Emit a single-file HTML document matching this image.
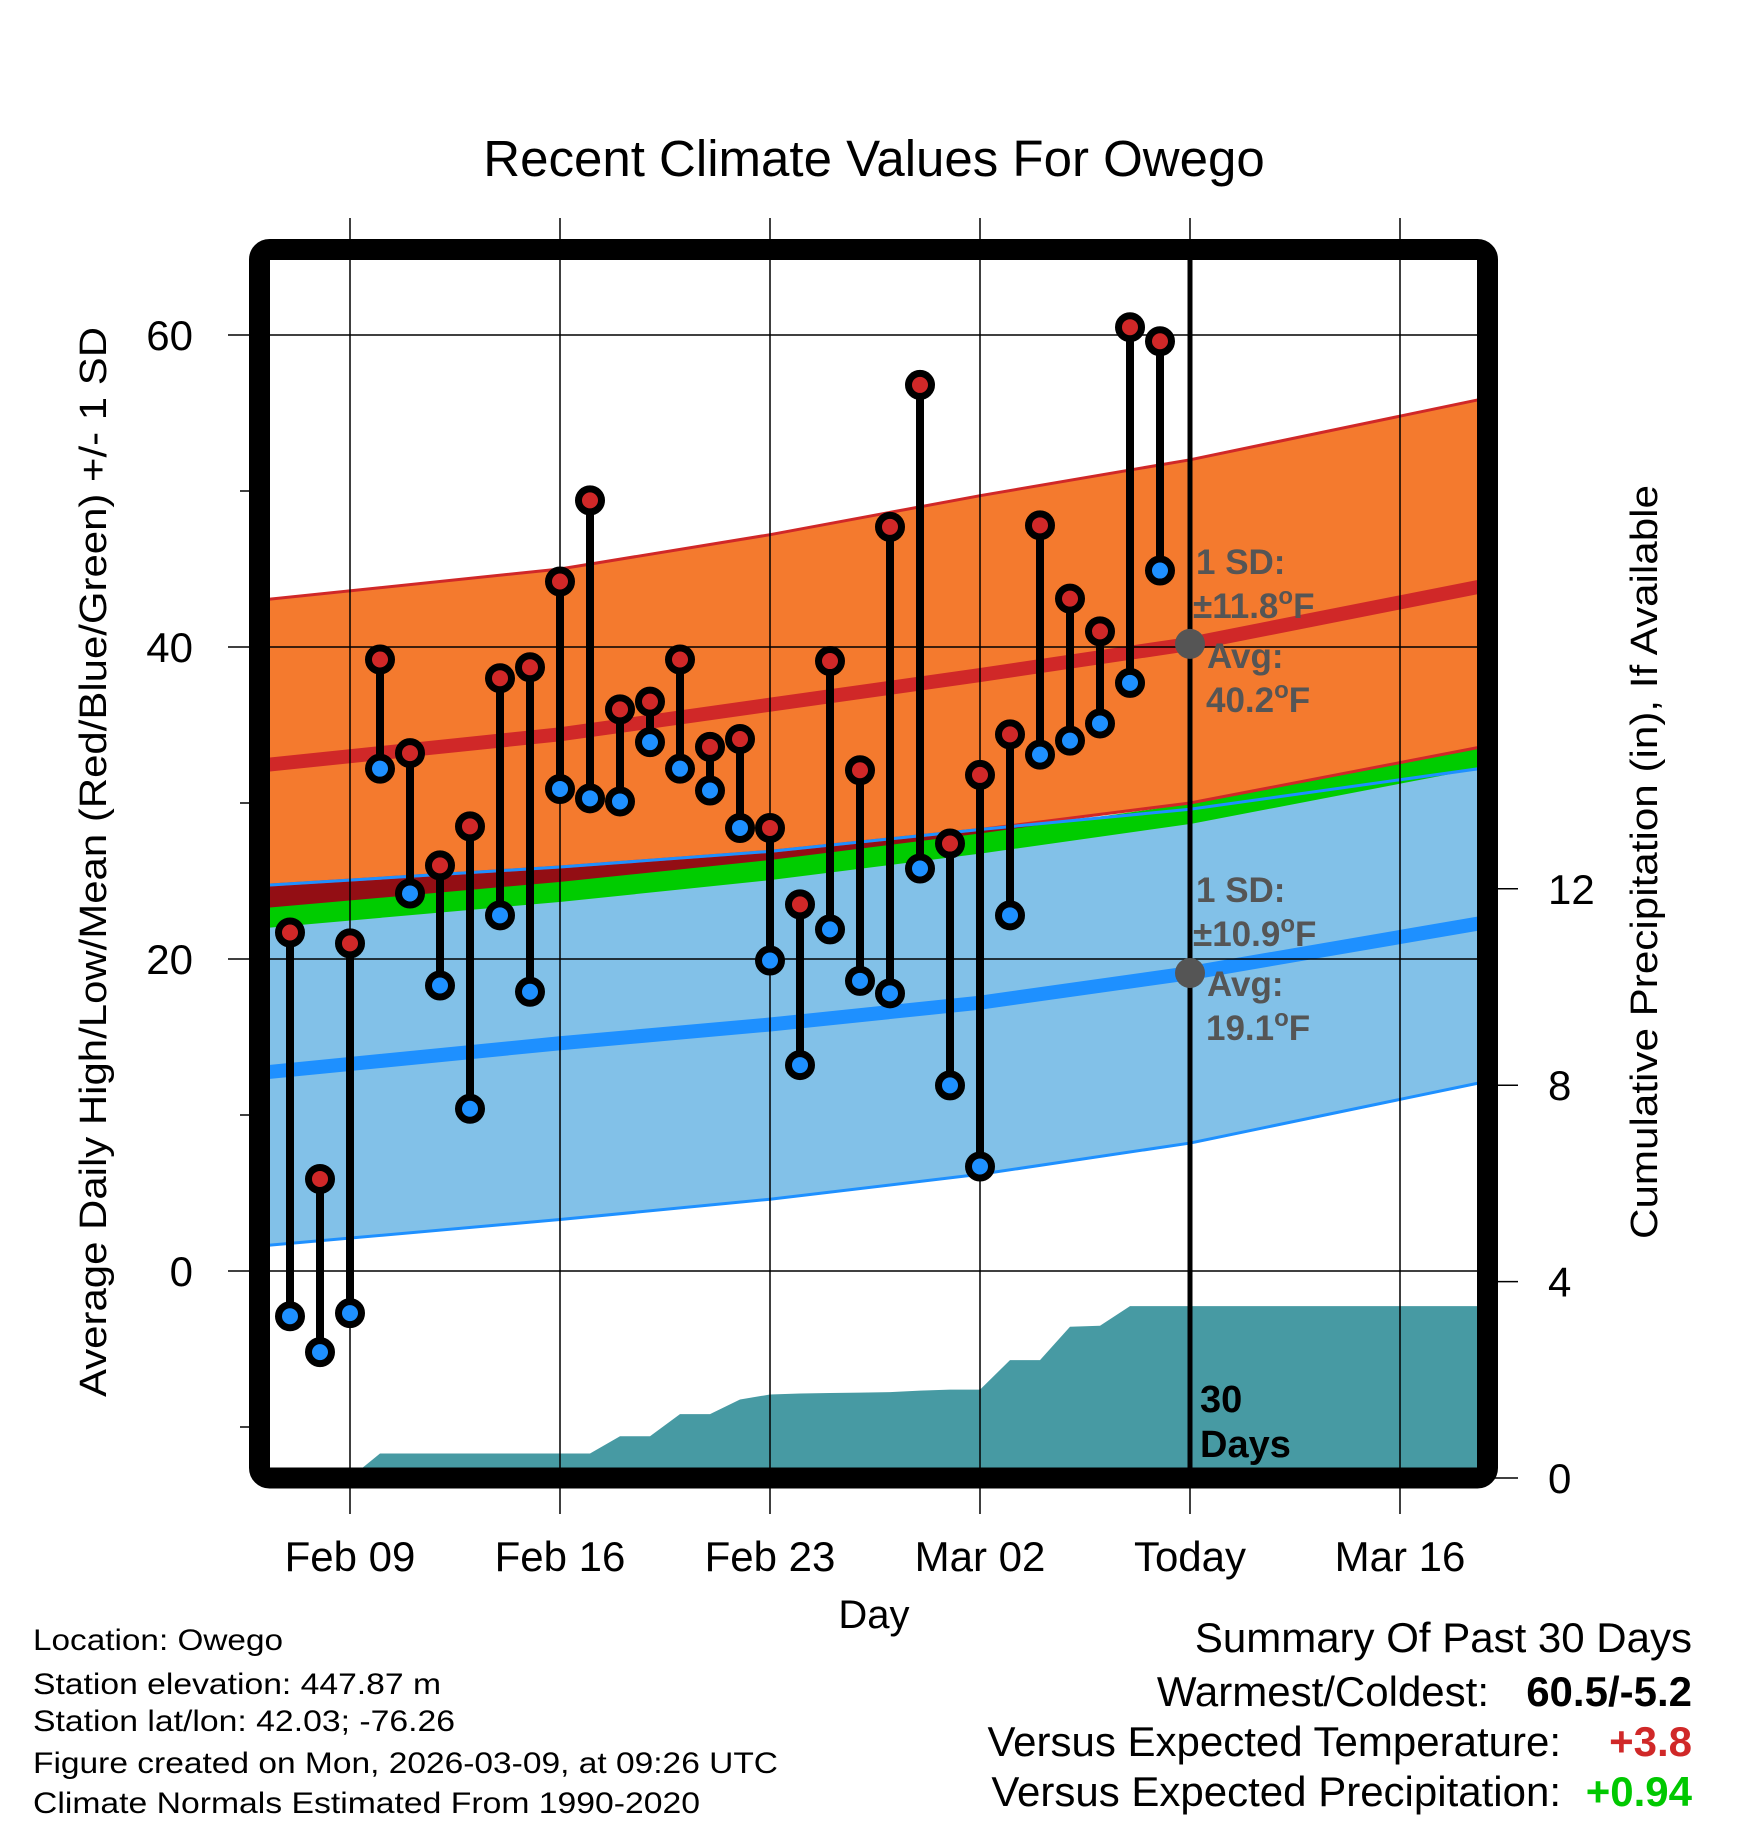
<!DOCTYPE html>
<html><head><meta charset="utf-8"><style>
html,body{margin:0;padding:0;background:#fff;}
svg{display:block;font-family:"Liberation Sans",sans-serif;}
</style></head><body>
<svg id="chart" width="1748" height="1828" viewBox="0 0 1748 1828" xmlns="http://www.w3.org/2000/svg">
<defs><clipPath id="plotclip"><rect x="270" y="260" width="1208" height="1208"/></clipPath></defs>
<text x="874" y="176" text-anchor="middle" font-size="51">Recent Climate Values For Owego</text>
<g id="bands" clip-path="url(#plotclip)"></g>
<g id="grid"></g>
<g id="marks"></g>
<g id="axes"></g>
<rect x="259.5" y="249.5" width="1228" height="1228.5" rx="10" fill="none" stroke="#000" stroke-width="21"/>
<g fill="#555" font-weight="bold" font-size="35">
<text x="1196" y="574">1 SD:</text>
<text x="1193" y="618">±11.8<tspan font-size="24" dy="-14">o</tspan><tspan dy="14">F</tspan></text>
<text x="1207" y="668">Avg:</text>
<text x="1206" y="712">40.2<tspan font-size="24" dy="-14">o</tspan><tspan dy="14">F</tspan></text>
</g>
<g fill="#555" font-weight="bold" font-size="35">
<text x="1196" y="902">1 SD:</text>
<text x="1193" y="946">±10.9<tspan font-size="24" dy="-14">o</tspan><tspan dy="14">F</tspan></text>
<text x="1207" y="996">Avg:</text>
<text x="1206" y="1040">19.1<tspan font-size="24" dy="-14">o</tspan><tspan dy="14">F</tspan></text>
</g>
<g font-weight="bold" font-size="38">
<text x="1200" y="1412">30</text><text x="1200" y="1457">Days</text>
</g>
<text x="874" y="1628" text-anchor="middle" font-size="40">Day</text>
<text transform="translate(106,862) rotate(-90)" text-anchor="middle" font-size="38" textLength="1070" lengthAdjust="spacingAndGlyphs">Average Daily High/Low/Mean (Red/Blue/Green) +/- 1 SD</text>
<text transform="translate(1657,862) rotate(-90)" text-anchor="middle" font-size="38" textLength="754" lengthAdjust="spacingAndGlyphs">Cumulative Precipitation (in), If Available</text>
<g font-size="30">
<text x="33" y="1650" textLength="250" lengthAdjust="spacingAndGlyphs">Location: Owego</text>
<text x="33" y="1694" textLength="408" lengthAdjust="spacingAndGlyphs">Station elevation: 447.87 m</text>
<text x="33" y="1731" textLength="422" lengthAdjust="spacingAndGlyphs">Station lat/lon: 42.03; -76.26</text>
<text x="33" y="1773" textLength="745" lengthAdjust="spacingAndGlyphs">Figure created on Mon, 2026-03-09, at 09:26 UTC</text>
<text x="33" y="1813" textLength="667" lengthAdjust="spacingAndGlyphs">Climate Normals Estimated From 1990-2020</text>
</g>
<g font-size="42" text-anchor="end">
<text x="1692" y="1652">Summary Of Past 30 Days</text>
<text x="1489" y="1706">Warmest/Coldest:</text>
<text x="1692" y="1706" font-weight="bold">60.5/-5.2</text>
<text x="1561" y="1756">Versus Expected Temperature:</text>
<text x="1692" y="1756" font-weight="bold" fill="#d02828">+3.8</text>
<text x="1561" y="1806">Versus Expected Precipitation:</text>
<text x="1692" y="1806" font-weight="bold" fill="#00c800">+0.94</text>
</g>
</svg>
<script>
// Days offset from Feb 07
const highs = [21.7,5.9,21.0,39.2,33.2,26.0,28.5,38.0,38.7,44.2,49.4,36.0,36.5,39.2,33.6,34.1,28.4,23.5,39.1,32.1,47.7,56.8,27.4,31.8,34.4,47.8,43.1,41.0,60.5,59.6];
const lows = [-2.9,-5.2,-2.7,32.2,24.2,18.3,10.4,22.8,17.9,30.9,30.3,30.1,33.9,32.2,30.8,28.4,19.9,13.2,21.9,18.6,17.8,25.8,11.9,6.7,22.8,33.1,34.0,35.1,37.7,44.9];
const precip = [0,0,0,0.5,0.5,0.5,0.5,0.5,0.5,0.5,0.5,0.85,0.85,1.3,1.3,1.6,1.7,1.72,1.73,1.74,1.75,1.78,1.8,1.8,2.4,2.4,3.08,3.1,3.5,3.5,3.5,3.5,3.5,3.5,3.5,3.5,3.5,3.5,3.5,3.5,3.5];
const normDays = [-1,9,16,23,30,40];
const highUpper = [43.0,45.0,47.2,49.7,52.0,56.0];
const highMean = [32.4,34.4,36.3,38.2,40.2,44.0];
const highLower = [24.7,25.9,26.9,28.3,30.0,33.7];
const meanLine = [22.6,24.3,25.7,27.4,29.3,33.0];
const lowUpper = [24.7,25.9,26.9,28.3,29.6,32.3];
const lowMean = [12.7,14.6,15.8,17.2,19.1,22.4];
const lowLower = [1.6,3.3,4.6,6.2,8.2,12.2];
const xTickDays = [2,9,16,23,30,37];
const xTickLabels = ["Feb 09","Feb 16","Feb 23","Mar 02","Today","Mar 16"];
const yTicks = [0,20,40,60];
const yMinor = [-10,10,30,50];
const pTicks = [0,4,8,12];
const todayDay = 30;
const todayHigh = 40.2, todayLow = 19.1;

const NS="http://www.w3.org/2000/svg";
const x = d => 290 + 30*d;
const y = t => 1271 - 15.6*t;
const yp = p => 1478 - 49.1*p;
function mk(tag, parent, attrs){const e=document.createElementNS(NS,tag);for(const k in attrs)e.setAttribute(k,attrs[k]);parent.appendChild(e);return e;}
function linePts(arr){return normDays.map((d,i)=>x(d)+","+y(arr[i])).join(" ");}
function bandPts(top,bot){const a=normDays.map((d,i)=>x(d)+","+y(top[i]));const b=normDays.map((d,i)=>x(d)+","+y(bot[i])).reverse();return a.concat(b).join(" ");}

const bands=document.getElementById('bands');
let e;
e=mk('polygon',bands,{points:bandPts(lowUpper,lowLower),fill:'#82c1e8'});


e=mk('polygon',bands,{points:bandPts(lowUpper,meanLine),fill:'#930e14'});


e=mk('polygon',bands,{points:bandPts(highUpper,highLower),fill:'#f47a2e'});


e=mk('polyline',bands,{points:linePts(meanLine),fill:'none',stroke:'#00cc00','stroke-width':20});


[[highUpper,'#d02828','high-upper-line'],[highLower,'#d02828','high-lower-line'],[lowUpper,'#1e90ff','low-upper-line'],[lowLower,'#1e90ff','low-lower-line']].forEach(([arr,c,n])=>{
 const l=mk('polyline',bands,{points:linePts(arr),fill:'none',stroke:c,'stroke-width':3});
 
 
});
e=mk('polyline',bands,{points:linePts(highMean),fill:'none',stroke:'#d02828','stroke-width':14});


e=mk('polyline',bands,{points:linePts(lowMean),fill:'none',stroke:'#1e90ff','stroke-width':14});


let pp=[x(0)+","+1480];
precip.forEach((p,i)=>pp.push(x(i)+","+yp(p)));
pp.push(x(precip.length-1)+","+1480);
e=mk('polygon',bands,{points:pp.join(" "),fill:'#479aa3'});



const grid=document.getElementById('grid');
xTickDays.forEach((d,i)=>{
 const l=mk('line',grid,{x1:x(d),x2:x(d),y1:218,y2:1514,stroke:'#000','stroke-width':1.5});
 
 
});
yTicks.forEach(t=>{
 const l=mk('line',grid,{x1:228,x2:1478,y1:y(t),y2:y(t),stroke:'#000','stroke-width':1.5});
 
 
});
e=mk('line',grid,{x1:x(todayDay),x2:x(todayDay),y1:260,y2:1468,stroke:'#000','stroke-width':5});



const marks=document.getElementById('marks');
highs.forEach((h,i)=>{
 const s=mk('line',marks,{x1:x(i),x2:x(i),y1:y(h),y2:y(lows[i]),stroke:'#000','stroke-width':8});
 
 
});
highs.forEach((h,i)=>{
 const c=mk('circle',marks,{cx:x(i),cy:y(h),r:11.5,fill:'#d02828',stroke:'#000','stroke-width':7});
 
 
 const c2=mk('circle',marks,{cx:x(i),cy:y(lows[i]),r:11.5,fill:'#1e90ff',stroke:'#000','stroke-width':7});
 
 
});
e=mk('circle',marks,{cx:x(todayDay),cy:y(todayHigh),r:15,fill:'#555'});


e=mk('circle',marks,{cx:x(todayDay),cy:y(todayLow),r:15,fill:'#555'});



const axes=document.getElementById('axes');
yTicks.forEach(t=>{
 const tx=mk('text',axes,{x:193,y:y(t)+15,'text-anchor':'end','font-size':42});
 tx.textContent=t;
 
 
});
yMinor.forEach(t=>{
 const l=mk('line',axes,{x1:240,x2:252,y1:y(t),y2:y(t),stroke:'#000','stroke-width':1.5});
 
 
});
pTicks.forEach(p=>{
 const l=mk('line',axes,{x1:1495,x2:1518,y1:yp(p),y2:yp(p),stroke:'#000','stroke-width':1.5});
 
 
 const tx=mk('text',axes,{x:1548,y:yp(p)+15,'font-size':42});
 tx.textContent=p;
 
 
});
xTickDays.forEach((d,i)=>{
 const tx=mk('text',axes,{x:x(d),y:1571,'text-anchor':'middle','font-size':42});
 tx.textContent=xTickLabels[i];
 
 
});
</script>
</body></html>
